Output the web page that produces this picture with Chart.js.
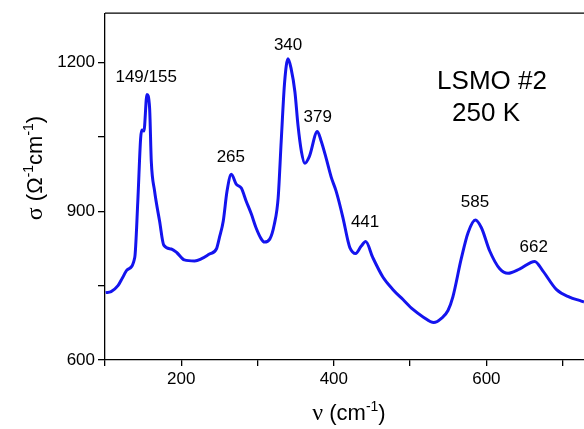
<!DOCTYPE html>
<html>
<head>
<meta charset="utf-8">
<script src="https://cdn.jsdelivr.net/npm/chart.js@4/dist/chart.umd.min.js"></script>
<style>
  html, body { margin: 0; padding: 0; background: #fff; }
  #wrap { width: 584px; height: 429px; position: relative; }
</style>
</head>
<body>
<div id="wrap"><canvas id="c" width="584" height="429"></canvas></div>
<script>
// wave number (cm^-1) and conductivity
const waveNumbers = [100.8, 108, 117, 123, 129, 139, 143, 146.7, 148.4, 151, 155, 158.5, 160.7, 165, 171.6, 177, 187, 194, 204, 217.5, 226, 237, 246, 250, 255, 260, 265.6, 272, 278.7, 285, 292, 298, 305, 309, 316, 322, 327, 331, 335.5, 340, 344, 349, 353, 357.5, 362, 368, 378.4, 383.6, 390, 397, 403, 412, 418.6, 421, 428.6, 436, 441.8, 451, 464.5, 477.6, 490.7, 503.8, 517, 531, 541, 549.7, 556, 567, 576, 585.6, 593.5, 604.4, 617.5, 628.4, 644, 663.4, 674, 692, 709, 724.6, 728]
const sigma = [736, 738, 750, 766, 782, 807, 920, 1047, 1064, 1062, 1136, 1108, 1001, 941, 880, 832, 824, 817, 802, 800, 804, 814, 824, 847, 880, 941, 975, 955, 947, 921, 894, 867, 844, 838, 844, 874, 927, 1041, 1161, 1208, 1188, 1141, 1074, 1021, 997, 1011, 1061, 1041, 1007, 967, 941, 887, 840, 827, 815, 830, 839, 807, 767, 742, 722, 702, 687, 675.5, 684, 700, 727, 804, 857, 882.6, 867, 820, 784, 775, 784, 799, 780, 742, 727, 719, 717]

const xTicks = [100, 200, 300, 400, 500, 600, 700]
const xLabels = [200, 400, 600]
const yTicks = [600, 750, 900, 1050, 1200]
const yLabels = [600, 900, 1200]

// peak labels: text, x value, y value where text is centred
const peakText = ["149/155", "265", "340", "379", "441", "585", "662"]
const peakX = [154, 265, 340, 379, 441, 585, 662]
const peakY = [1170, 1010, 1235, 1090, 878, 918, 828]

const sans = "'Liberation Sans', Arial, Helvetica, sans-serif"
const serif = "'Liberation Serif', 'Times New Roman', serif"

function richWidth(ctx, segs) {
	let w = 0
	segs.forEach(s => { ctx.font = s.font; w += ctx.measureText(s.t).width })
	return w
}

function drawRich(ctx, segs, cx, cy, angle) {
	ctx.save()
	ctx.translate(cx, cy)
	ctx.rotate(angle)
	ctx.fillStyle = "#000"
	ctx.textBaseline = "alphabetic"
	ctx.textAlign = "left"
	let x = -richWidth(ctx, segs) / 2
	segs.forEach(s => {
		ctx.font = s.font
		ctx.fillText(s.t, x, s.sup ? -9 : 0)
		x += ctx.measureText(s.t).width
	})
	ctx.restore()
}

const decorPlugin = {
	id: "decor",
	afterDraw(chart) {
		const ctx = chart.ctx
		const xs = chart.scales.x, ys = chart.scales.y
		const area = chart.chartArea
		// top frame line
		ctx.save()
		ctx.strokeStyle = "#000"
		ctx.lineWidth = 1.3
		ctx.beginPath()
		ctx.moveTo(area.left, area.top)
		ctx.lineTo(chart.width, area.top)
		ctx.stroke()
		ctx.restore()

		ctx.save()
		ctx.fillStyle = "#000"
		ctx.textAlign = "center"
		ctx.textBaseline = "middle"
		ctx.font = "17px " + sans
		peakText.forEach((t, i) => ctx.fillText(t, xs.getPixelForValue(peakX[i]), ys.getPixelForValue(peakY[i])))
		ctx.font = "26px " + sans
		ctx.fillText("LSMO #2", 492, 82)
		ctx.fillText("250 K", 486, 114)
		ctx.restore()

		const big = "22px " + sans, small = "14px " + sans
		drawRich(ctx, [
			{t: "\u03bd", font: "24px " + serif},
			{t: " (cm", font: big},
			{t: "-1", font: small, sup: true},
			{t: ")", font: big}
		], 349, 420, 0)
		drawRich(ctx, [
			{t: "\u03c3", font: "24px " + serif},
			{t: " (\u03a9", font: big},
			{t: "-1", font: small, sup: true},
			{t: "cm", font: big},
			{t: "-1", font: small, sup: true},
			{t: ")", font: big}
		], 42, 168, -Math.PI / 2)
	}
}

new Chart(document.getElementById("c"), {
	type: "line",
	data: {
		datasets: [{
			data: waveNumbers.map((w, i) => ({x: w, y: sigma[i]})),
			borderColor: "#1414ee",
			borderWidth: 3,
			pointRadius: 0,
			cubicInterpolationMode: "monotone",
			fill: false
		}]
	},
	options: {
		responsive: false,
		animation: false,
		layout: {padding: {top: 12, right: 0, left: 0, bottom: 0}},
		plugins: {legend: {display: false}, tooltip: {enabled: false}},
		scales: {
			x: {
				type: "linear",
				min: 100,
				max: 728,
				afterBuildTicks: s => { s.ticks = xTicks.map(v => ({value: v})) },
				afterFit: s => { s.height = 69 },
				border: {color: "#000", width: 1.3},
				grid: {drawOnChartArea: false, drawTicks: true, tickLength: 6, color: "#000", lineWidth: 1.3},
				ticks: {
					color: "#000",
					font: {size: 17, family: sans},
					padding: 3,
					maxRotation: 0,
					autoSkip: false,
					callback: v => xLabels.includes(v) ? v : ""
				}
			},
			y: {
				min: 600,
				max: 1300,
				afterBuildTicks: s => { s.ticks = yTicks.map(v => ({value: v})) },
				afterFit: s => { s.width = 105 },
				border: {color: "#000", width: 1.3},
				grid: {drawOnChartArea: false, drawTicks: true, tickLength: 7, color: "#000", lineWidth: 1.3},
				ticks: {
					color: "#000",
					font: {size: 17, family: sans},
					padding: 3,
					autoSkip: false,
					callback: v => yLabels.includes(v) ? v : ""
				}
			}
		}
	},
	plugins: [decorPlugin]
})
</script>
</body>
</html>
